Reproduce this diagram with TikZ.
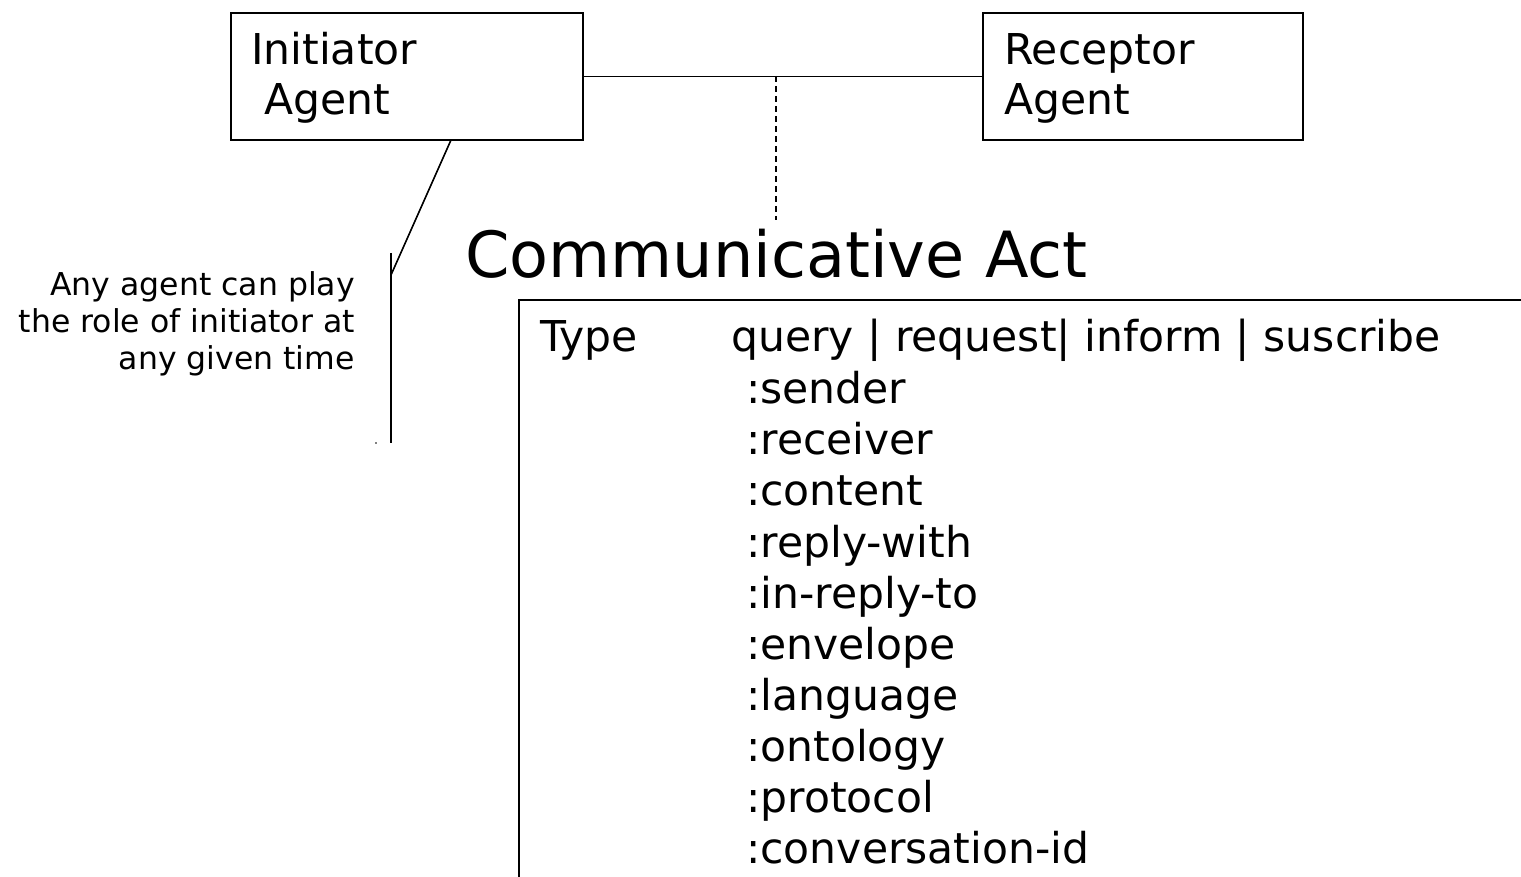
\documentclass[tikz,border=0pt]{standalone}
\usepackage{fontspec}
\setmainfont{DejaVu Sans}
\begin{document}
\begin{tikzpicture}[x=1pt,y=-1pt,
  agentbox/.style={draw,line width=1.8pt,rectangle,inner sep=0pt},
  link/.style={line width=1.8pt},
  txt/.style={inner sep=0pt,anchor=base west,font=\fontsize{42.5}{51}\selectfont},
  note/.style={inner sep=0pt,anchor=base east,align=right,font=\fontsize{31.5}{37.5}\selectfont},
  title/.style={inner sep=0pt,anchor=base west,font=\fontsize{63.7}{70}\selectfont}]
\useasboundingbox (0,0) rectangle (1521,877);
% agent boxes
\node[agentbox,minimum width=352pt,minimum height=127pt] (init) at (407,76.5) {};
\node[agentbox,minimum width=320pt,minimum height=127pt] (recep) at (1143,76.5) {};
\node[txt] (initA) at (251,65) {Initiator};
\node[txt] (initB) at (251,115) {\ Agent};
\node[txt] (recA) at (1004,65) {Receptor};
\node[txt] (recB) at (1004,115) {Agent};
% link between agents
\draw[link] (init.east) -- (recep.west);
\coordinate (mid) at (776,76);
\coordinate (dashend) at (776,220);
\draw[line width=1.4pt,dash pattern=on 6pt off 4pt] (mid) -- (dashend);
% note
\coordinate (slantA) at (451,140);
\coordinate (slantB) at (391,275);
\coordinate (vtop) at (391,253);
\coordinate (vbot) at (391,443);
\draw[line width=1.6pt] (slantA) -- (slantB);
\draw[line width=1.6pt] (vtop) -- (vbot);
\fill (376,443) circle (0.9pt);
\node[note] (n1) at (355,296) {Any agent can play};
\node[note] (n2) at (355,333) {the role of initiator at};
\node[note] (n3) at (355,370) {any given time};
% communicative act
\node[title] (ttl) at (465,278) {Communicative Act};
\coordinate (boxTR) at (1521,300);
\coordinate (boxTL) at (519,300);
\coordinate (boxBL) at (519,877);
\draw[line width=1.8pt] (boxTR) -- (boxTL) -- (boxBL);
\node[txt] (type) at (540,352) {Type};
\node[txt] (vals) at (731,352) {query | request| inform | suscribe};
\node[txt] (f1) at (746,403) {:sender};
\node[txt] (f2) at (746,454) {:receiver};
\node[txt] (f3) at (746,505) {:content};
\node[txt] (f4) at (746,557) {:reply-with};
\node[txt] (f5) at (746,608) {:in-reply-to};
\node[txt] (f6) at (746,659) {:envelope};
\node[txt] (f7) at (746,710) {:language};
\node[txt] (f8) at (746,761) {:ontology};
\node[txt] (f9) at (746,812) {:protocol};
\node[txt] (f10) at (746,863) {:conversation-id};
\end{tikzpicture}
\end{document}
